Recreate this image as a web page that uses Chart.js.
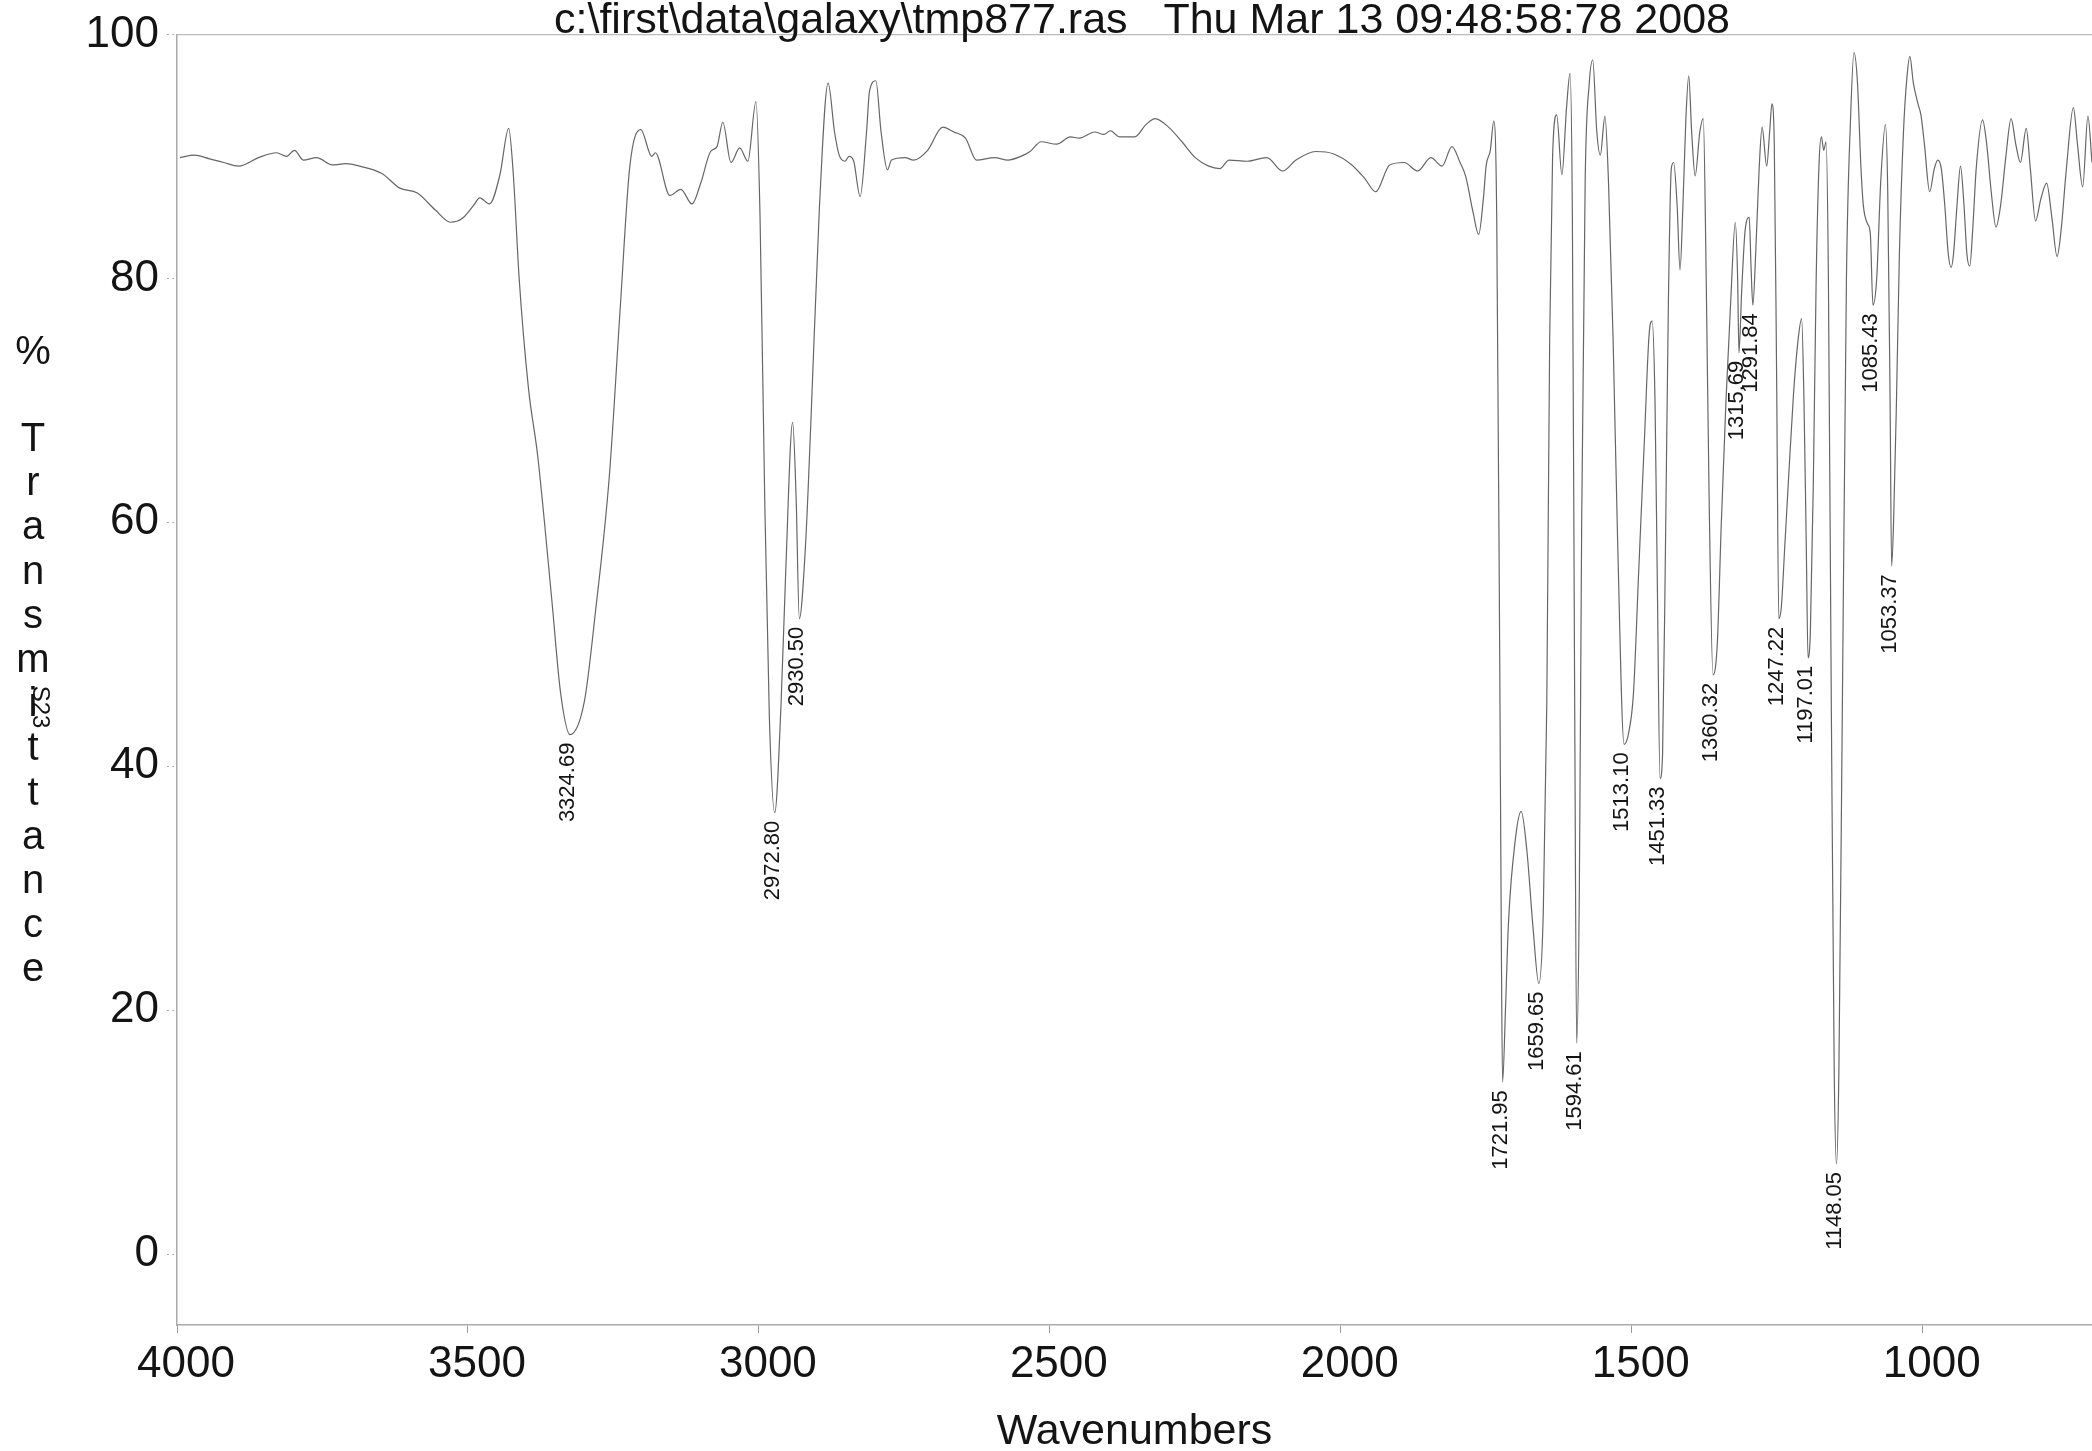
<!DOCTYPE html>
<html>
<head>
<meta charset="utf-8">
<script src="https://cdn.jsdelivr.net/npm/chart.js@4.4.0/dist/chart.umd.min.js"></script>
<style>
  html, body { margin: 0; padding: 0; background: #fff; }
  #wrap { width: 2092px; height: 1451px; }
</style>
</head>
<body>
<div id="wrap"><canvas id="ir" width="2092" height="1451"></canvas></div>
<script>
// spectrum, wavenumber (cm-1) descending
const wavenumbers = [
  3995, 3970, 3944, 3920, 3894, 3860, 3829, 3812, 3798, 3783, 3760, 3733, 3710, 3686, 3648, 3617,
  3587, 3556, 3530, 3510, 3490, 3480, 3463, 3445, 3430, 3422, 3412, 3396, 3380, 3356, 3341, 3324.69,
  3300, 3281, 3257, 3238, 3222, 3203, 3184, 3178, 3153, 3134, 3115, 3100, 3083, 3072, 3062, 3048,
  3033, 3019, 3005, 2998, 2990, 2982, 2972.8, 2962, 2954, 2942, 2936, 2930.5, 2920, 2911, 2896, 2881,
  2870, 2862, 2852, 2845, 2837, 2826, 2815, 2810, 2799, 2790, 2779, 2772, 2749, 2734, 2710, 2684,
  2665, 2645, 2626, 2595, 2572, 2550, 2534, 2515, 2488, 2465, 2449, 2423, 2407, 2396, 2380, 2354,
  2335, 2319, 2296, 2273, 2250, 2227, 2208, 2192, 2161, 2127, 2100, 2077, 2043, 2012, 1981, 1959,
  1940, 1916, 1891, 1868, 1845, 1826, 1809, 1795, 1785, 1773, 1763, 1755, 1750, 1743, 1737, 1732,
  1727, 1724, 1721.95, 1717, 1712, 1700, 1690, 1680, 1670, 1659.65, 1652, 1646, 1641, 1636, 1629, 1620,
  1612, 1606, 1602, 1598, 1594.61, 1590, 1586, 1580, 1573, 1567, 1560, 1554, 1546, 1540, 1532, 1524,
  1513.1, 1505, 1497, 1488, 1478, 1470, 1465, 1460, 1456, 1451.33, 1447, 1442, 1437, 1432, 1428, 1422,
  1417, 1412, 1407, 1402, 1397, 1391, 1383, 1377, 1372, 1367, 1360.32, 1353, 1346, 1338, 1330, 1322,
  1318, 1315.69, 1311, 1305, 1298, 1295, 1291.84, 1287, 1281, 1276, 1268, 1263, 1259, 1255, 1251, 1247.22,
  1243, 1237, 1230, 1222, 1214, 1208, 1204, 1200, 1197.01, 1193, 1188, 1183, 1178, 1174, 1170, 1166,
  1162, 1157, 1152, 1148.05, 1144, 1138, 1131, 1124, 1118, 1112, 1106, 1102, 1095, 1090, 1085.43, 1079,
  1072, 1064, 1060, 1056, 1053.37, 1050, 1045, 1040, 1033, 1027, 1022, 1016, 1008, 1003, 997, 988,
  980, 974, 968, 962, 956, 951, 947, 941, 935, 929, 924, 919, 914, 908, 897, 890,
  882, 874, 866, 857, 848, 840, 832, 822, 815, 806, 797, 787, 778, 769, 762, 753,
  741, 734, 725, 716, 709
];
const transmittance = [
  89.9, 90.1, 89.8, 89.5, 89.2, 89.9, 90.3, 90.0, 90.5, 89.7, 89.9, 89.3, 89.4, 89.2, 88.6, 87.4,
  87.0, 85.6, 84.6, 84.9, 86.0, 86.6, 86.1, 88.5, 92.3, 88.5, 80.0, 71.0, 65.4, 53.7, 46.1, 42.6,
  45.3, 52.6, 63.8, 77.8, 89.1, 92.2, 90.0, 90.3, 86.8, 87.3, 86.1, 87.8, 90.4, 90.8, 92.8, 89.5,
  90.7, 89.6, 94.5, 85.0, 62.0, 44.0, 36.2, 45.0, 55.8, 68.2, 62.0, 52.1, 58.0, 67.8, 85.8, 96.0,
  92.0, 90.1, 89.6, 90.0, 89.6, 86.7, 92.0, 95.3, 96.2, 92.0, 88.9, 89.7, 89.9, 89.7, 90.5, 92.4,
  92.0, 91.5, 89.7, 89.9, 89.7, 90.0, 90.4, 91.2, 91.0, 91.6, 91.5, 92.0, 91.8, 92.1, 91.6, 91.6,
  92.6, 93.1, 92.4, 91.2, 89.9, 89.2, 89.0, 89.7, 89.6, 89.9, 88.8, 89.7, 90.4, 90.2, 89.3, 88.2,
  87.1, 89.3, 89.5, 88.8, 89.9, 89.2, 90.8, 89.5, 88.3, 85.5, 83.6, 86.5, 89.3, 90.5, 92.9, 85.0,
  50.0, 25.0, 14.1, 20.0, 27.0, 34.0, 36.3, 33.0, 27.0, 22.2, 28.0, 45.0, 75.0, 90.0, 93.4, 88.5,
  94.0, 96.8, 85.0, 45.0, 17.3, 30.0, 60.0, 88.0, 96.0, 97.9, 92.0, 90.1, 93.3, 88.0, 75.0, 58.0,
  41.8, 42.8, 46.0, 56.0, 67.0, 75.5, 76.5, 70.0, 55.0, 39.0, 41.0, 58.0, 78.0, 89.0, 89.5, 86.0,
  80.7, 86.0, 93.0, 96.6, 92.0, 88.4, 92.0, 93.1, 80.0, 62.0, 47.5, 50.0, 60.0, 70.0, 78.0, 84.6,
  80.0, 73.9, 79.0, 84.0, 85.0, 81.0, 77.8, 82.0, 89.0, 92.4, 89.2, 92.0, 94.3, 91.0, 72.0, 52.1,
  53.0, 58.0, 64.0, 70.5, 75.0, 76.7, 70.0, 58.0, 48.9, 51.0, 63.0, 80.0, 89.5, 91.6, 90.5, 91.2,
  80.0, 45.0, 15.0, 7.4, 15.0, 45.0, 80.0, 93.0, 98.5, 96.0, 89.0, 86.0, 84.5, 83.7, 77.8, 80.0,
  88.0, 92.6, 87.0, 70.0, 56.4, 60.0, 70.0, 82.0, 92.0, 96.5, 98.2, 96.0, 94.3, 93.4, 91.0, 87.1,
  89.0, 89.7, 89.0, 86.0, 82.0, 80.9, 82.0, 86.0, 89.2, 86.0, 82.0, 81.0, 84.0, 89.0, 93.0, 91.0,
  87.0, 84.2, 86.0, 90.0, 93.1, 91.0, 89.5, 92.3, 89.0, 84.7, 86.5, 87.8, 85.0, 81.8, 84.0, 89.0,
  94.0, 91.0, 87.5, 93.3, 89.5
];

// annotated band minima
const peakWavenumbers = [3324.69, 2972.80, 2930.50, 1721.95, 1659.65, 1594.61, 1513.10, 1451.33,
  1360.32, 1315.69, 1291.84, 1247.22, 1197.01, 1148.05, 1085.43, 1053.37];
const peakTransmittance = [42.6, 36.2, 52.1, 14.1, 22.2, 17.3, 41.8, 39.0,
  47.5, 73.9, 77.8, 52.1, 48.9, 7.4, 77.8, 56.4];

const xTickValues = [4000, 3500, 3000, 2500, 2000, 1500, 1000];
const yTickValues = [0, 20, 40, 60, 80, 100];

const TITLE = 'c:\\first\\data\\galaxy\\tmp877.ras   Thu Mar 13 09:48:58:78 2008';
const Y_TITLE = ['%', 'T', 'r', 'a', 'n', 's', 'm', 'i', 't', 't', 'a', 'n', 'c', 'e'];
const SAMPLE = 'S23';

const FONT = '"Liberation Sans", Arial, sans-serif';
const INK = '#141414';

// title, stacked y title and rotated band labels
const irText = {
  id: 'irText',
  afterDraw(chart) {
    const {ctx, scales: {x, y}} = chart;
    ctx.save();
    ctx.fillStyle = INK;

    ctx.font = '43px ' + FONT;
    ctx.textAlign = 'center';
    ctx.textBaseline = 'alphabetic';
    ctx.fillText(TITLE, 1142, 33);

    ctx.font = '40px ' + FONT;
    ctx.textBaseline = 'middle';
    Y_TITLE.forEach((ch, i) => {
      const cy = i === 0 ? 353 : 440 + (i - 1) * 44.2;
      ctx.fillText(ch, 33, cy);
    });

    ctx.save();
    ctx.font = '24px ' + FONT;
    ctx.translate(40, 707);
    ctx.rotate(Math.PI / 2);
    ctx.fillText(SAMPLE, 0, 0);
    ctx.restore();

    ctx.font = '22px ' + FONT;
    ctx.textAlign = 'right';
    ctx.textBaseline = 'middle';
    peakWavenumbers.forEach((wn, i) => {
      const px = x.getPixelForValue(wn);
      const py = y.getPixelForValue(peakTransmittance[i]);
      ctx.save();
      ctx.translate(px - 2, py + 8);
      ctx.rotate(-Math.PI / 2);
      ctx.fillText(wn.toFixed(2), 0, 0);
      ctx.restore();
    });
    ctx.restore();
  }
};

const points = wavenumbers.map((wn, i) => ({x: wn, y: transmittance[i]}));

new Chart(document.getElementById('ir'), {
  type: 'line',
  data: {
    datasets: [{
      data: points,
      borderColor: '#666',
      borderWidth: 1.2,
      pointRadius: 0,
      cubicInterpolationMode: 'monotone',
      fill: false
    }]
  },
  options: {
    responsive: false,
    devicePixelRatio: 1,
    animation: false,
    layout: {padding: {top: 31, left: 0, right: 0, bottom: 0}},
    plugins: {legend: {display: false}, tooltip: {enabled: false}, title: {display: false}},
    scales: {
      x: {
        type: 'linear', reverse: true, min: 709, max: 4000,
        afterBuildTicks: s => { s.ticks = xTickValues.map(v => ({value: v})); },
        afterFit: s => { s.height = 126; },
        ticks: {font: {family: FONT, size: 44}, color: INK, padding: 5, maxRotation: 0, autoSkip: false, labelOffset: 9,
          callback: v => String(v)},
        grid: {drawOnChartArea: false, drawTicks: true, tickLength: 8, color: '#999'},
        border: {display: true, color: '#aaa', width: 1.5, dash: [1, 3]},
        title: {display: true, text: 'Wavenumbers', color: INK, font: {family: FONT, size: 43, lineHeight: 1}, padding: {top: 0, bottom: -3}}
      },
      xTop: {
        type: 'linear', position: 'top', reverse: true, min: 709, max: 4000,
        afterFit: s => { s.height = 0; },
        ticks: {display: false},
        grid: {display: false, drawTicks: false},
        border: {display: true, color: '#bbb', width: 1.2, dash: [2, 6]}
      },
      y: {
        min: -5.8, max: 100,
        afterBuildTicks: s => { s.ticks = yTickValues.map(v => ({value: v})); },
        afterFit: s => { s.width = 177; },
        ticks: {font: {family: FONT, size: 44}, color: INK, padding: 8, callback: v => String(v)},
        grid: {drawOnChartArea: false, drawTicks: true, tickLength: 10, color: '#aaa', tickBorderDash: [2, 3]},
        border: {display: true, color: '#aaa', width: 1.5, dash: [1, 3]}
      }
    }
  },
  plugins: [irText]
});
</script>
</body>
</html>
